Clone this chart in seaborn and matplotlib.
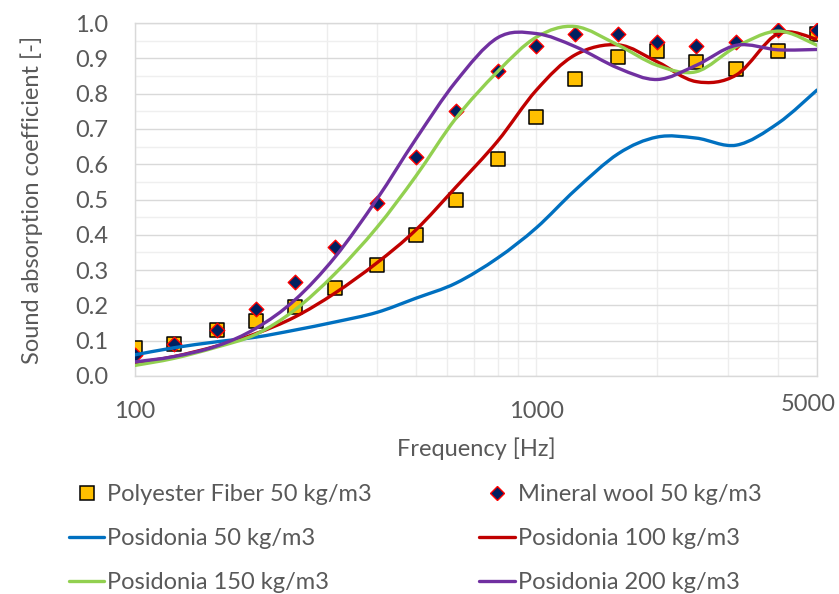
import numpy as np
import pandas as pd
import matplotlib
matplotlib.use("Agg")
import matplotlib.pyplot as plt
import matplotlib.transforms as mtransforms
import seaborn as sns
from matplotlib.path import Path
from matplotlib.patches import PathPatch
from matplotlib.lines import Line2D
from matplotlib.ticker import FixedLocator, NullFormatter

# 1/3 octave band centre frequencies
freq = [100, 125, 160, 200, 250, 315, 400, 500, 630, 800,
        1000, 1250, 1600, 2000, 2500, 3150, 4000, 5000]

polyester = [0.08, 0.09, 0.13, 0.155, 0.195, 0.25, 0.315, 0.40, 0.50, 0.615,
             0.735, 0.84, 0.905, 0.92, 0.89, 0.87, 0.92, 0.97]
mineral = [0.06, 0.09, 0.13, 0.19, 0.265, 0.365, 0.49, 0.62, 0.75, 0.865,
           0.935, 0.97, 0.97, 0.945, 0.935, 0.945, 0.98, 0.98]

pos50 = [0.06, 0.08, 0.097, 0.11, 0.13, 0.153, 0.18, 0.22, 0.263, 0.334,
         0.42, 0.527, 0.63, 0.677, 0.674, 0.654, 0.716, 0.81]
pos100 = [0.037, 0.055, 0.085, 0.12, 0.167, 0.235, 0.32, 0.413, 0.535, 0.665,
          0.81, 0.91, 0.938, 0.89, 0.834, 0.853, 0.97, 0.954]
pos150 = [0.03, 0.05, 0.082, 0.118, 0.187, 0.29, 0.42, 0.565, 0.73, 0.862,
          0.96, 0.99, 0.937, 0.88, 0.862, 0.933, 0.977, 0.937]
pos200 = [0.04, 0.055, 0.085, 0.135, 0.215, 0.337, 0.5, 0.67, 0.834, 0.958,
          0.97, 0.933, 0.872, 0.84, 0.88, 0.937, 0.924, 0.925]

line_names = ["Posidonia 50 kg/m3", "Posidonia 100 kg/m3",
              "Posidonia 150 kg/m3", "Posidonia 200 kg/m3"]
line_colors = ["#0070C0", "#C00000", "#92D050", "#7030A0"]

sns.set_style("white")
plt.rcParams['font.family'] = ['Lato', 'DejaVu Sans']
txt = "#595959"
fs = 17

df = pd.DataFrame({"freq": freq, "polyester": polyester, "mineral": mineral})

fig = plt.figure(figsize=(8.39, 5.94), dpi=100)
ax = fig.add_axes([135 / 839, 1 - 376 / 594, 682 / 839, 353 / 594])

sns.scatterplot(data=df, x="freq", y="polyester", marker="s", s=105,
                color="#FFC000", edgecolor="black", linewidth=1.1, ax=ax, zorder=3)
sns.scatterplot(data=df, x="freq", y="mineral", marker="D", s=55,
                color="#002060", edgecolor="#FF0000", linewidth=1.0, ax=ax, zorder=4)


def smooth_path(xs, ys):
    # Excel-like smoothed line: Catmull-Rom -> cubic Bezier in log-x space
    u = np.log10(np.asarray(xs, float))
    v = np.asarray(ys, float)
    n = len(u)
    verts = [(xs[0], v[0])]
    codes = [Path.MOVETO]
    for i in range(n - 1):
        i0 = max(i - 1, 0)
        i3 = min(i + 2, n - 1)
        c1u = u[i] + (u[i + 1] - u[i0]) / 6
        c1v = v[i] + (v[i + 1] - v[i0]) / 6
        c2u = u[i + 1] - (u[i3] - u[i]) / 6
        c2v = v[i + 1] - (v[i3] - v[i]) / 6
        verts += [(10 ** c1u, c1v), (10 ** c2u, c2v), (xs[i + 1], v[i + 1])]
        codes += [Path.CURVE4] * 3
    return Path(verts, codes)


for ys, c in zip([pos50, pos100, pos150, pos200], line_colors):
    ax.add_patch(PathPatch(smooth_path(freq, ys), fill=False, edgecolor=c,
                           lw=2.4, zorder=5, capstyle="round", joinstyle="round"))

ax.set_xscale("log")
ax.set_xlim(100, 5000)
ax.set_ylim(0, 1.0)
ax.set_xticks([100, 1000, 5000])
ax.set_xticklabels(["100", "1000", "5000"])
ax.xaxis.set_minor_locator(FixedLocator([200, 300, 400, 500, 600, 700, 800, 900,
                                         2000, 3000, 4000]))
ax.xaxis.set_minor_formatter(NullFormatter())
ax.set_yticks(np.arange(0, 1.01, 0.1))
ax.set_yticklabels([f"{t:.1f}" for t in np.arange(0, 1.01, 0.1)])
ax.yaxis.set_minor_locator(FixedLocator(np.arange(0.05, 1.0, 0.1)))

ax.grid(True, which="major", axis="y", color="#D9D9D9", lw=1.0, zorder=0)
ax.grid(True, which="minor", axis="y", color="#EFEFEF", lw=1.0, zorder=0)
ax.grid(True, which="both", axis="x", color="#EDEDED", lw=1.0, zorder=0)
ax.set_axisbelow(True)
for sp in ax.spines.values():
    sp.set_color("#D9D9D9")
    sp.set_linewidth(1.0)

ax.tick_params(axis="both", which="both", length=0, labelsize=fs, colors=txt)
ax.tick_params(axis="x", pad=18)
ax.tick_params(axis="y", pad=19)
ax.set_xlabel("Frequency [Hz]", fontsize=fs, color=txt, labelpad=11)
ax.set_ylabel("Sound absorption coefficient [-]", fontsize=fs, color=txt, labelpad=23)

# the last x label sits a little higher and to the left, as in the original
last = ax.get_xticklabels()[-1]
last.set_transform(last.get_transform() +
                   mtransforms.ScaledTranslation(-9 / 100, 7 / 100, fig.dpi_scale_trans))

h_poly = Line2D([], [], ls="none", marker="s", markersize=9.5, markerfacecolor="#FFC000",
                markeredgecolor="black", markeredgewidth=1.1)
h_min = Line2D([], [], ls="none", marker="D", markersize=7, markerfacecolor="#002060",
               markeredgecolor="#FF0000", markeredgewidth=1.0)
h_lines = [Line2D([], [], color=c, lw=2.4) for c in line_colors]

handles = [h_poly, h_lines[0], h_lines[2], h_min, h_lines[1], h_lines[3]]
labels = ["Polyester Fiber 50 kg/m3", line_names[0], line_names[2],
          "Mineral wool 50 kg/m3", line_names[1], line_names[3]]
leg = fig.legend(handles, labels, ncol=2, loc="upper left",
                 bbox_to_anchor=(69 / 839, 1 - 484 / 594), frameon=False,
                 fontsize=fs, handlelength=1.5, handletextpad=0.12,
                 columnspacing=4.55, labelspacing=0.98, borderaxespad=0,
                 borderpad=0)
for t in leg.get_texts():
    t.set_color(txt)

fig.savefig("out.png", dpi=100)
